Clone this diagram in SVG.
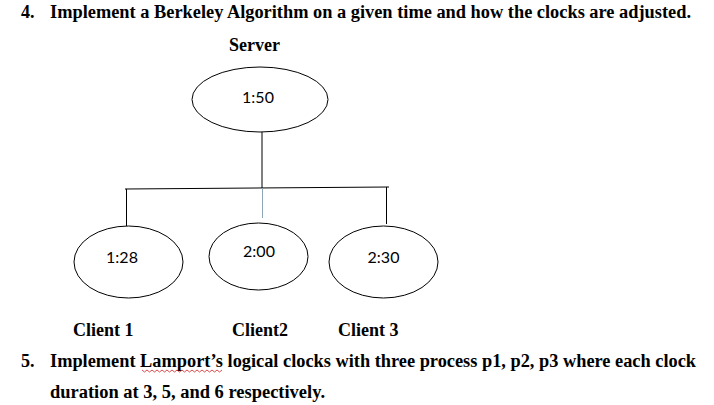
<svg xmlns="http://www.w3.org/2000/svg" width="714" height="405" viewBox="0 0 714 405">
<style>
.h{font-family:"Liberation Serif","Times New Roman",serif;font-weight:bold;font-size:18px;fill:#000}
.t{font-family:Lato,"Open Sans",sans-serif;font-size:16px;fill:#000;text-anchor:middle}
.e{fill:#fff;stroke:#000;stroke-width:1}
.c{stroke:#000;stroke-width:1;fill:none}
</style>
<rect width="714" height="405" fill="#fff"/>
<text class="h" x="21" y="18">4.</text>
<text class="h" x="50" y="18" textLength="641" lengthAdjust="spacingAndGlyphs">Implement a Berkeley Algorithm on a given time and how the clocks are adjusted.</text>
<text class="h" x="229" y="51">Server</text>
<g id="connectors">
<line class="c" x1="262" y1="132" x2="262" y2="188"/>
<line class="c" x1="125" y1="189" x2="389" y2="187" stroke="#444"/>
<line class="c" x1="126.5" y1="189" x2="126.5" y2="226"/>
<line x1="262.5" y1="188" x2="262.5" y2="218" stroke="#8aa6b8" stroke-width="1"/>
<line class="c" x1="386.5" y1="187" x2="386.5" y2="224"/>
</g>
<g id="server">
<ellipse class="e" cx="260" cy="99.5" rx="68" ry="32.5"/>
<text class="t" x="258" y="103">1:50</text>
</g>
<g id="client1">
<ellipse class="e" cx="128.5" cy="262" rx="54.5" ry="36"/>
<text class="t" x="122" y="263">1:28</text>
</g>
<g id="client2">
<ellipse class="e" cx="258.5" cy="256.5" rx="49.5" ry="33.5" stroke-width="2.5"/>
<text class="t" x="259" y="257">2:00</text>
</g>
<g id="client3">
<ellipse class="e" cx="383.5" cy="262" rx="54.5" ry="36"/>
<text class="t" x="383.5" y="263">2:30</text>
</g>
<text class="h" x="73" y="336">Client 1</text>
<text class="h" x="232" y="336">Client2</text>
<text class="h" x="338" y="336">Client 3</text>
<text class="h" x="21" y="367">5.</text>
<text class="h" x="50" y="367" textLength="646" lengthAdjust="spacingAndGlyphs">Implement Lamport’s logical clocks with three process p1, p2, p3 where each clock</text>
<path d="M142 370 l2.5 2 l2.5 -2 l2.5 2 l2.5 -2 l2.5 2 l2.5 -2 l2.5 2 l2.5 -2 l2.5 2 l2.5 -2 l2.5 2 l2.5 -2 l2.5 2 l2.5 -2 l2.5 2 l2.5 -2 l2.5 2 l2.5 -2 l2.5 2 l2.5 -2 l2.5 2 l2.5 -2 l2.5 2 l2.5 -2 l2.5 2 l2.5 -2 l2.5 2 l2.5 -2 l2.5 2 l2.5 -2 l2.5 2 l2.5 -2" fill="none" stroke="#d02020" stroke-width="0.8"/>
<text class="h" x="50" y="398" textLength="275" lengthAdjust="spacingAndGlyphs">duration at 3, 5, and 6 respectively.</text>
</svg>
